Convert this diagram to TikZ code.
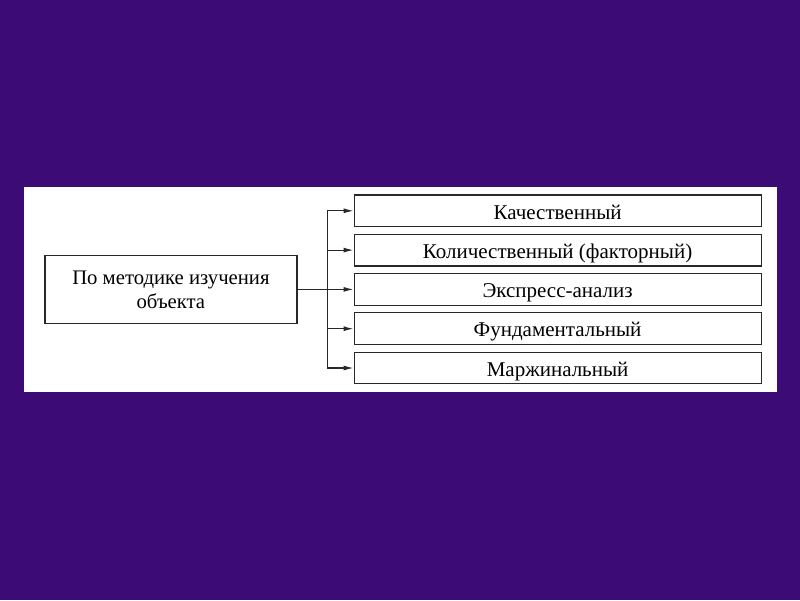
\documentclass[tikz,border=0pt]{standalone}
\usepackage{fontspec}
\setmainfont{Liberation Serif}
\usetikzlibrary{positioning,arrows.meta}
\definecolor{slidebg}{RGB}{60,11,118}
\definecolor{boxline}{RGB}{40,40,40}
\tikzset{
  kind/.style={draw=boxline, line width=1.2pt, minimum width=407pt, minimum height=31.7pt,
    inner sep=0pt, text height=17pt, text depth=0.6pt, font=\fontsize{21}{24}\selectfont},
  link/.style={-{Latex[length=10pt,width=5pt]}, line width=1.1pt, draw=boxline}
}

\begin{document}
\begin{tikzpicture}[x=1pt,y=-1pt]
  % slide and panel
  \fill[slidebg] (0,0) rectangle (800,600);
  \fill[white] (24,187) rectangle (777,392);

  \node[kind] (kach) at (557.6,210.8) {Качественный};
  \node[kind, below = 6.4pt of kach] (kol) {Количественный (факторный)};
  \node[kind, below = 6.4pt of kol] (expr) {Экспресс-анализ};
  \node[kind, below = 6.4pt of expr] (fund) {Фундаментальный};
  \node[kind, below = 6.4pt of fund] (marg) {Маржинальный};

  \node[draw=boxline, line width=1.2pt, minimum width=252pt, minimum height=68pt, align=center,
    font=\fontsize{20.7}{24}\selectfont, left = 56pt of expr] (method) {По методике изучения\\объекта};

  \coordinate[right = 30pt of method] (split);

  \draw[link] (method) -- (expr);
  \draw[link] (split) |- (kach);
  \draw[link] (split) |- (kol);
  \draw[link] (split) |- (fund);
  \draw[link] (split) |- (marg);
\end{tikzpicture}
\end{document}
